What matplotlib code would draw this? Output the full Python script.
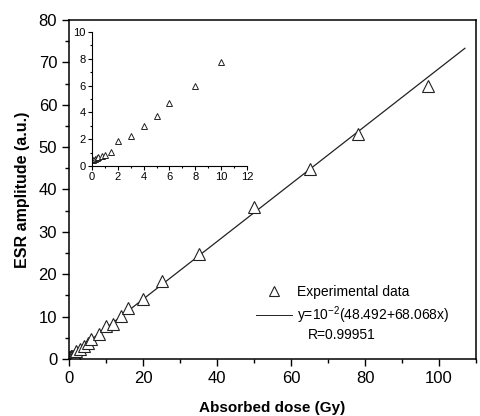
import numpy as np
import matplotlib.pyplot as plt
from matplotlib.lines import Line2D
from matplotlib.ticker import MultipleLocator

plt.rcParams['font.family'] = ['Liberation Sans', 'DejaVu Sans']
plt.rcParams['mathtext.fontset'] = 'custom'
plt.rcParams['mathtext.rm'] = 'Liberation Sans'
plt.rcParams['mathtext.it'] = 'Liberation Sans:italic'

# absorbed dose (Gy) and ESR amplitude (a.u.)
dose = [0.1, 0.25, 0.4, 0.5, 0.75, 1.0, 1.5, 2, 3, 4, 5, 6, 8, 10,
        12, 14, 16, 20, 25, 35, 50, 65, 78, 97]
amplitude = [0.45, 0.5, 0.6, 0.65, 0.72, 0.8, 1.05, 1.87, 2.25, 3.0, 3.75, 4.7, 5.95, 7.75,
             8.3, 10.2, 12.0, 14.2, 18.4, 24.8, 35.8, 44.8, 53.1, 64.4]

# linear fit y = 1e-2 * (48.492 + 68.068 x)
fit_a = 0.48492
fit_b = 0.68068
fit_x = [0, 107]

dose = np.array(dose)
amplitude = np.array(amplitude)
fit_x = np.array(fit_x)

fig = plt.figure(figsize=(4.81, 4.16), dpi=100)
ax = fig.add_axes([0.1435, 0.137, 0.8461, 0.815])

ax.plot(fit_x, fit_a + fit_b * fit_x, color='#222222', lw=0.9)
ax.plot(dose, amplitude, linestyle='none', marker='^', markersize=8,
        markerfacecolor='white', markeredgecolor='#222222', markeredgewidth=0.8)

ax.set_xlim(0, 110)
ax.set_ylim(0, 80)
ax.xaxis.set_major_locator(MultipleLocator(20))
ax.xaxis.set_minor_locator(MultipleLocator(10))
ax.yaxis.set_major_locator(MultipleLocator(10))
ax.yaxis.set_minor_locator(MultipleLocator(5))
ax.tick_params(which='major', direction='out', length=5, width=1, labelsize=12)
ax.tick_params(which='minor', direction='out', length=3, width=1)
ax.tick_params(top=False, right=False)
ax.set_xlabel('Absorbed dose (Gy)', fontsize=11, fontweight='bold', labelpad=11)
ax.set_ylabel('ESR amplitude (a.u.)', fontsize=11.5, fontweight='bold', labelpad=6)
for s in ax.spines.values():
    s.set_linewidth(1.1)

handles = [
    Line2D([], [], linestyle='none', marker='^', markersize=7,
           markerfacecolor='white', markeredgecolor='#222222', markeredgewidth=0.8),
    Line2D([], [], color='#222222', lw=0.7),
]
labels = ['Experimental data', r'y=10$^{-2}$(48.492+68.068x)']
ax.legend(handles, labels, loc='upper left', bbox_to_anchor=(0.46, 0.218),
          frameon=False, fontsize=10, handlelength=2.6, handletextpad=0.3,
          labelspacing=0.35, borderpad=0, borderaxespad=0)
ax.text(0.588, 0.07, 'R=0.99951', transform=ax.transAxes, fontsize=10,
        va='center')

# inset: low-dose region
ins = fig.add_axes([0.191, 0.601, 0.3225, 0.322])
low = dose <= 10
ins.plot(dose[low], amplitude[low], linestyle='none', marker='^', markersize=4,
         markerfacecolor='white', markeredgecolor='#222222', markeredgewidth=0.7)
ins.set_xlim(0, 12)
ins.set_ylim(0, 10)
ins.xaxis.set_major_locator(MultipleLocator(2))
ins.xaxis.set_minor_locator(MultipleLocator(1))
ins.yaxis.set_major_locator(MultipleLocator(2))
ins.yaxis.set_minor_locator(MultipleLocator(1))
ins.tick_params(which='major', direction='out', length=3, width=0.8, labelsize=8, pad=1.5)
ins.tick_params(which='minor', direction='out', length=1.5, width=0.8)
ins.spines['top'].set_visible(False)
ins.spines['right'].set_visible(False)
ins.patch.set_alpha(0)

fig.savefig('out.png', dpi=100)
